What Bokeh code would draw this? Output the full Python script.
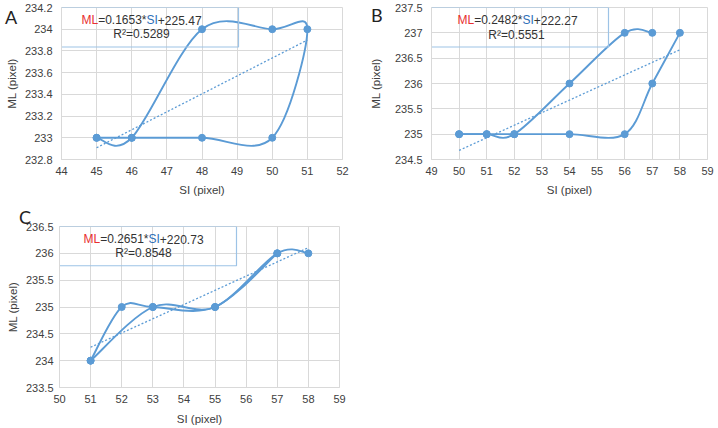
from bokeh.plotting import figure
from bokeh.layouts import column, row
from bokeh.models import FixedTicker, CustomJSTickFormatter, Label, Range1d, Div
from bokeh.embed import file_html
from bokeh.resources import INLINE

# ---------------- data ----------------
# Panel A
A_si = [45, 46, 48, 50, 51, 50, 48, 46, 45]
A_ml = [233, 233, 234, 234, 234, 233, 233, 233, 233]
A_slope, A_icpt, A_r2 = 0.1653, 225.47, "0.5289"
A_xticks = [44, 45, 46, 47, 48, 49, 50, 51, 52]
A_yticks = [232.8, 233, 233.2, 233.4, 233.6, 233.8, 234, 234.2]

# Panel B
B1_si = [50, 51, 52, 54, 56, 57]
B1_ml = [235, 235, 235, 236, 237, 237]
B2_si = [58, 57, 56, 54, 52, 51, 50]
B2_ml = [237, 236, 235, 235, 235, 235, 235]
B_slope, B_icpt, B_r2 = 0.2482, 222.27, "0.5551"
B_xticks = [49, 50, 51, 52, 53, 54, 55, 56, 57, 58, 59]
B_yticks = [234.5, 235, 235.5, 236, 236.5, 237, 237.5]

# Panel C
C1_si = [51, 52, 53, 55, 57, 58]
C1_ml = [234, 235, 235, 235, 236, 236]
C2_si = [51, 53, 55, 57]
C2_ml = [234, 235, 235, 236]
C_slope, C_icpt, C_r2 = 0.2651, 220.73, "0.8548"
C_xticks = [50, 51, 52, 53, 54, 55, 56, 57, 58, 59]
C_yticks = [233.5, 234, 234.5, 235, 235.5, 236, 236.5]

# ---------------- style ----------------
BLUE = "#5b9bd5"
GRID = "#d9d9d9"
TXT = "#404040"
FONT = "Liberation Sans"
BOX_FS = 12
ARIAL_W = {c: 0.556 for c in "0123456789"}
ARIAL_W.update({".": 0.278, "=": 0.584, "*": 0.389, "+": 0.584, "M": 0.833,
                "L": 0.556, "S": 0.667, "I": 0.278})


def text_w(s, fs):
    return sum(ARIAL_W.get(ch, 0.556) for ch in s) * fs


def bezier_segments(xs, ys):
    n = len(xs)
    seg = {k: [] for k in ["x0", "y0", "x1", "y1", "cx0", "cy0", "cx1", "cy1"]}
    for i in range(n - 1):
        px, py = (xs[i - 1], ys[i - 1]) if i > 0 else (xs[i], ys[i])
        qx, qy = (xs[i + 2], ys[i + 2]) if i + 2 < n else (xs[i + 1], ys[i + 1])
        seg["x0"].append(xs[i]); seg["y0"].append(ys[i])
        seg["x1"].append(xs[i + 1]); seg["y1"].append(ys[i + 1])
        seg["cx0"].append(xs[i] + (xs[i + 1] - px) / 6)
        seg["cy0"].append(ys[i] + (ys[i + 1] - py) / 6)
        seg["cx1"].append(xs[i + 1] - (qx - xs[i]) / 6)
        seg["cy1"].append(ys[i + 1] - (qy - ys[i]) / 6)
    return seg


def panel(series, slope, icpt, r2, xticks, yticks, fw, fh,
          bl, br, bt, bb, ylab_stand, xlab_stand, ymaj_stand,
          eq_c, r2_c):
    x0, x1 = xticks[0], xticks[-1]
    y0, y1 = yticks[0], yticks[-1]
    ppx = fw / (x1 - x0)
    ppy = fh / (y1 - y0)

    def X(dx):
        return x0 + dx / ppx

    def Y(dy):
        return y1 - dy / ppy

    p = figure(width=bl + fw + br, height=bt + fh + bb,
               min_border_left=bl, min_border_right=br,
               min_border_top=bt, min_border_bottom=bb,
               x_range=Range1d(x0, x1), y_range=Range1d(y0, y1),
               output_backend="svg", toolbar_location=None, title=None,
               background_fill_color="white", border_fill_color="white")
    p.outline_line_color = GRID
    fmt = "return String(parseFloat(tick.toFixed(3)));"
    for ax, ticks, lab in ((p.xaxis[0], xticks, "SI (pixel)"), (p.yaxis[0], yticks, "ML (pixel)")):
        ax.ticker = FixedTicker(ticks=ticks)
        ax.formatter = CustomJSTickFormatter(code=fmt)
        ax.axis_label = lab
        ax.axis_line_color = GRID
        ax.major_tick_line_color = None
        ax.minor_tick_line_color = None
        ax.major_tick_out = 0
        ax.major_tick_in = 0
        ax.major_label_text_font = FONT
        ax.major_label_text_font_size = "11px"
        ax.major_label_text_color = TXT
        ax.axis_label_text_font = FONT
        ax.axis_label_text_font_size = "11.5px"
        ax.axis_label_text_font_style = "normal"
        ax.axis_label_text_color = TXT
    p.xaxis.major_label_standoff = 7
    p.xaxis.axis_label_standoff = xlab_stand
    p.yaxis.major_label_standoff = ymaj_stand
    p.yaxis.axis_label_standoff = ylab_stand
    p.xgrid.grid_line_color = GRID
    p.ygrid.grid_line_color = GRID

    # trendline
    allx = [v for s in series for v in s[0]]
    tx = [min(allx), max(allx)]
    ty = [slope * v + icpt for v in tx]
    p.line(tx, ty, line_color=BLUE, line_width=1.3, line_dash="2 2")

    for sx, sy in series:
        seg = bezier_segments(sx, sy)
        p.bezier(**seg, line_color=BLUE, line_width=1.9)
        p.scatter(sx, sy, size=7, marker="circle", fill_color=BLUE, line_color=BLUE)

    # equation box
    p.quad(left=[X(-1)], right=[X(177)], top=[Y(0)], bottom=[Y(40)],
           fill_alpha=0, line_color="#9dc3e6", line_width=1.2)
    parts = [("ML", "#e8302f"), ("=%.4f*" % slope, "#333333"), ("SI", "#2e6fb7"),
             ("+%.2f" % icpt, "#333333")]
    total = sum(text_w(t, BOX_FS) for t, _ in parts)
    cx = eq_c[0] - total / 2
    for t, c in parts:
        p.add_layout(Label(x=X(cx), y=Y(eq_c[1]), text=t, text_color=c, text_font=FONT,
                           text_font_size="%dpx" % BOX_FS, text_align="left",
                           text_baseline="middle"))
        cx += text_w(t, BOX_FS)
    p.add_layout(Label(x=X(r2_c[0]), y=Y(r2_c[1]), text="R\u00b2=" + r2, text_color="#333333",
                       text_font=FONT, text_font_size="%dpx" % BOX_FS, text_align="center",
                       text_baseline="middle"))
    return p


def letter_div(letter, left, top):
    return Div(text=letter, width=22, height=24,
               styles={"position": "absolute", "left": "%dpx" % left, "top": "%dpx" % top,
                       "z-index": "10", "font-family": "Lato", "font-size": "18px",
                       "line-height": "18px", "color": "#222222",
                       "pointer-events": "none"})


pA = panel([(A_si, A_ml)], A_slope, A_icpt, A_r2, A_xticks, A_yticks,
           281, 154, 61, 14, 7, 37, 4, 6, 9, (80, 13), (80, 27))
pB = panel([(B1_si, B1_ml), (B2_si, B2_ml)], B_slope, B_icpt, B_r2, B_xticks, B_yticks,
           276, 154, 75, 9, 7, 37, 10, 6, 9, (86, 13), (85, 28))
pC = panel([(C1_si, C1_ml), (C2_si, C2_ml)], C_slope, C_icpt, C_r2, C_xticks, C_yticks,
           280, 164, 59, 12, 28, 37, 4, 7, 6, (84, 13), (84, 27))

layout = column(row(pA, pB), pC,
                letter_div("A", 0, 3), letter_div("B", 366, 1), letter_div("C", 14, 203))
open("out.html", "w").write(file_html(layout, INLINE))
